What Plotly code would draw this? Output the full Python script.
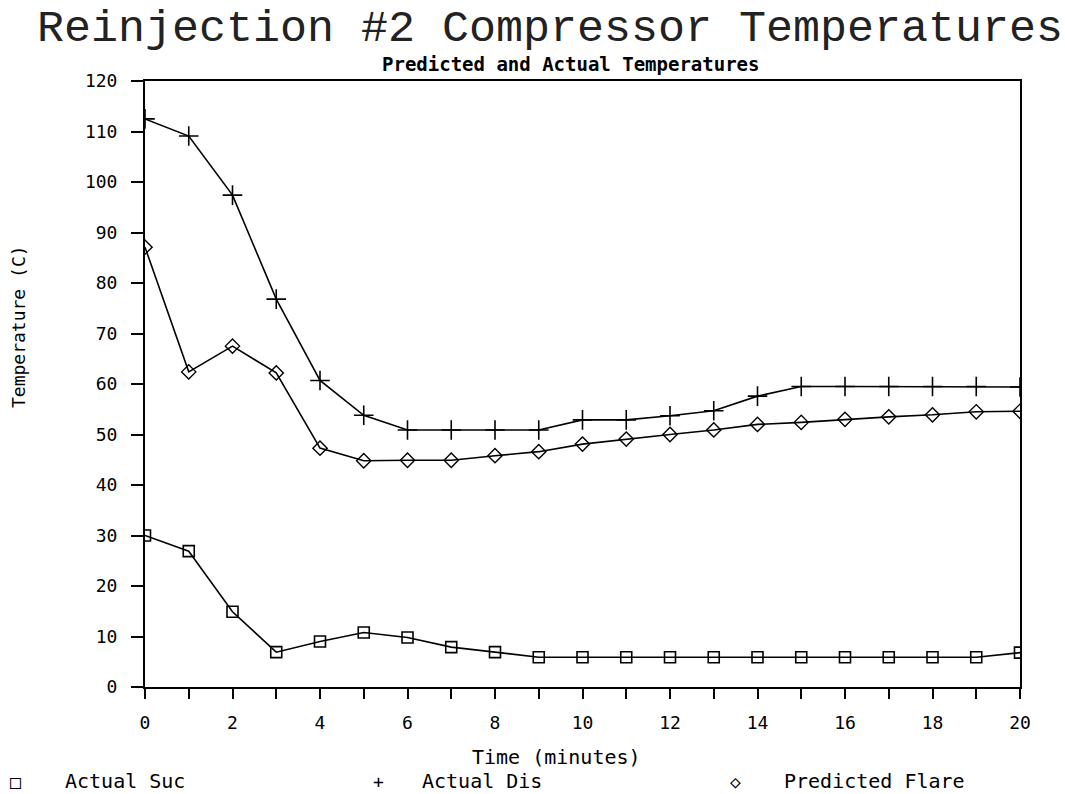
import plotly.graph_objects as go

time_min = list(range(0, 21))
actual_suc = [30.0, 26.9, 14.9, 6.9, 9.0, 10.8, 9.8, 7.9, 6.9, 5.9,
              5.9, 5.9, 5.9, 5.9, 5.9, 5.9, 5.9, 5.9, 5.9, 5.9, 6.8]
actual_dis = [112.5, 109.1, 97.4, 76.8, 60.7, 53.8, 50.9, 50.9, 50.9, 50.9,
              52.9, 52.9, 53.7, 54.7, 57.6, 59.5, 59.5, 59.5, 59.5, 59.5, 59.4]
predicted_flare = [87.1, 62.4, 67.5, 62.2, 47.3, 44.8, 44.9, 44.9, 45.8, 46.6,
                   48.1, 49.1, 50.0, 50.9, 52.0, 52.4, 53.0, 53.5, 53.9, 54.5, 54.6]

series_names = ["Actual Suc", "Actual Dis", "Predicted Flare"]
legend_glyphs = ["\u25a1", "+", "\u25c7"]
title_text = "Reinjection #2 Compressor Temperatures"
subtitle_text = "Predicted and Actual Temperatures"
x_title = "Time (minutes)"
y_title = "Temperature (C)"

MONO = "DejaVu Sans Mono"

marker_styles = [
    dict(symbol="square-open", size=11, color="black", line=dict(width=1.6, color="black")),
    dict(symbol="cross-thin", size=14, color="black", line=dict(width=1.6, color="black")),
    dict(symbol="diamond-open", size=11, color="black", line=dict(width=1.4, color="black")),
]
series_values = [actual_suc, actual_dis, predicted_flare]

fig = go.Figure()
for name, vals, mk in zip(series_names, series_values, marker_styles):
    fig.add_trace(go.Scatter(
        x=time_min, y=vals, name=name, mode="lines+markers",
        line=dict(color="black", width=1.6), marker=mk,
    ))

PLOT_TOP, PLOT_BOTTOM, PLOT_LEFT, PLOT_RIGHT = 81, 687, 145, 1020
ph = PLOT_BOTTOM - PLOT_TOP
pw = PLOT_RIGHT - PLOT_LEFT


def px_x(px):
    return (px - PLOT_LEFT) / pw


def px_y(py):
    return (PLOT_BOTTOM - py) / ph


annotations = [
    dict(text=subtitle_text, x=px_x(571), y=px_y(64), xanchor="center", yanchor="middle",
         font=dict(family=MONO, size=19, weight="bold", color="black")),
    dict(text=x_title, x=px_x(556), y=px_y(757), xanchor="center", yanchor="middle",
         font=dict(family=MONO, size=20, color="black")),
    dict(text=y_title, x=px_x(18), y=px_y(327), xanchor="center", yanchor="middle",
         textangle=-90, font=dict(family=MONO, size=18, color="black")),
]
# legend row along the bottom (symbol glyph + series name)
legend_sym_x = [15, 378, 735]
legend_txt_x = [63, 420, 782]
for g, name, sx, tx in zip(legend_glyphs, series_names, legend_sym_x, legend_txt_x):
    annotations.append(dict(text=g, x=px_x(sx), y=px_y(781), xanchor="center", yanchor="middle",
                            font=dict(family=MONO, size=18, color="black")))
    annotations.append(dict(text=name, x=px_x(tx), y=px_y(781), xanchor="left", yanchor="middle",
                            font=dict(family=MONO, size=20, color="black")))
for a in annotations:
    a.update(xref="paper", yref="paper", showarrow=False)

fig.update_layout(
    width=1065, height=794,
    margin=dict(l=PLOT_LEFT, r=1065 - PLOT_RIGHT, t=PLOT_TOP, b=794 - PLOT_BOTTOM, autoexpand=False),
    paper_bgcolor="white", plot_bgcolor="white",
    font=dict(family=MONO, color="black", size=18),
    title=dict(
        text=title_text,
        font=dict(family="Liberation Mono", size=45, color="#222"),
        x=550 / 1065, xanchor="center",
        y=1 - 25 / 794, yanchor="middle", yref="container",
    ),
    annotations=annotations,
    showlegend=False,
)

fig.update_xaxes(
    range=[0, 20], dtick=2, tick0=0,
    showgrid=False, zeroline=False,
    showline=True, linecolor="black", linewidth=2, mirror=True,
    ticks="outside", ticklen=10, tickwidth=1.5, tickcolor="black",
    minor=dict(dtick=1, ticks="outside", ticklen=10, tickwidth=1.5, tickcolor="black", showgrid=False),
    tickfont=dict(family=MONO, size=18),
    ticklabelstandoff=8,
)
fig.update_yaxes(
    range=[0, 120], dtick=10, tick0=0,
    showgrid=False, zeroline=False,
    showline=True, linecolor="black", linewidth=2, mirror=True,
    ticks="outside", ticklen=12, tickwidth=1.5, tickcolor="black",
    tickfont=dict(family=MONO, size=18),
    ticklabelstandoff=10,
)

fig.write_html("out.html")
